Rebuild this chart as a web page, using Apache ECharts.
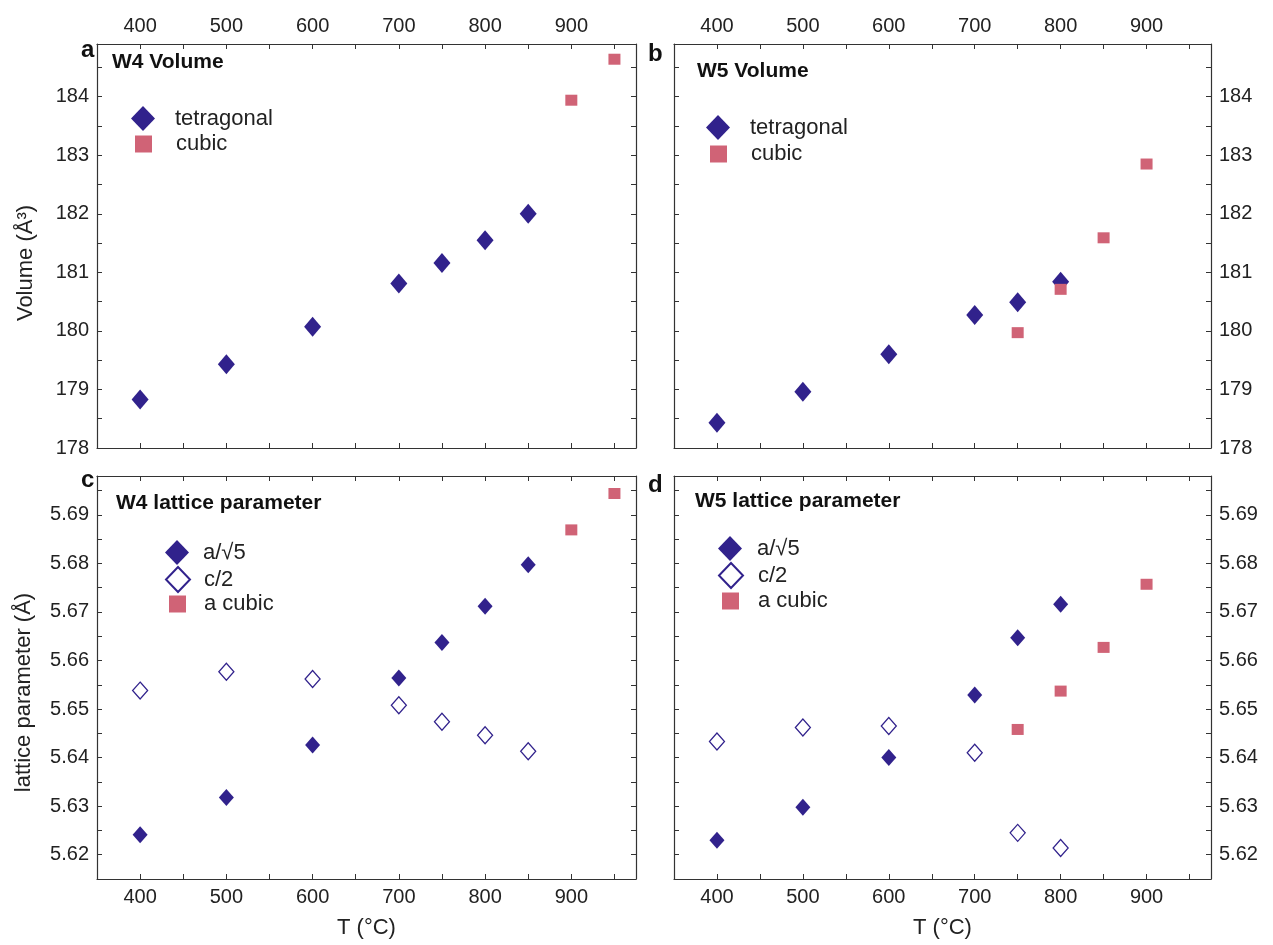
<!DOCTYPE html>
<html>
<head>
<meta charset="utf-8">
<script src="https://cdn.jsdelivr.net/npm/echarts@6/dist/echarts.min.js"></script>
<style>
  html, body { margin: 0; padding: 0; background: #fff; }
  #chart { width: 1273px; height: 945px; }
</style>
</head>
<body>
<div id="chart"></div>
<script>
// temperatures (°C) and values
const tA_tet = [400, 500, 600, 700, 750, 800, 850];
const volA_tet = [178.83, 179.43, 180.07, 180.81, 181.16, 181.55, 182.00];
const tA_cub = [900, 950];
const volA_cub = [183.94, 184.64];

const tB_tet = [400, 500, 600, 700, 750, 800];
const volB_tet = [178.43, 178.96, 179.60, 180.27, 180.49, 180.84];
const tB_cub = [750, 800, 850, 900];
const volB_cub = [179.97, 180.71, 181.59, 182.85];

const tC_tet = [400, 500, 600, 700, 750, 800, 850];
const aC = [5.6241, 5.6318, 5.6426, 5.6564, 5.6637, 5.6712, 5.6797];
const cC = [5.6538, 5.6577, 5.6562, 5.6508, 5.6474, 5.6446, 5.6413];
const tC_cub = [900, 950];
const aC_cub = [5.6869, 5.6944];

const tD_tet = [400, 500, 600, 700, 750, 800];
const aD = [5.6230, 5.6298, 5.6400, 5.6529, 5.6647, 5.6716];
const cD = [5.6433, 5.6462, 5.6465, 5.6410, 5.6245, 5.6214];
const tD_cub = [750, 800, 850, 900];
const aD_cub = [5.6458, 5.6537, 5.6627, 5.6757];

const NAVY = '#31228c';
const PINK = '#d06376';
const AXIS = '#333';
const FONT = 'Liberation Sans, Arial, sans-serif';

const chart = echarts.init(document.getElementById('chart'));

function pairs(xs, ys) {
  return xs.map((x, i) => [x, ys[i]]);
}

// x axis: 350..975, ticks every 50, labels every 100
function xAx(grid, pos, labels, name) {
  return {
    type: 'value', gridIndex: grid, position: pos,
    min: 350, max: 975, interval: 50,
    name: name || '', nameLocation: 'middle', nameGap: 38,
    nameTextStyle: { fontSize: 22, color: '#222', fontFamily: FONT },
    axisLine: { show: true, onZero: false, lineStyle: { color: AXIS, width: 1.2 } },
    axisTick: { show: true, inside: true, length: 5, lineStyle: { color: AXIS } },
    axisLabel: {
      show: labels, fontSize: 20, color: '#222', fontFamily: FONT, margin: 8,
      formatter: v => (v % 100 === 0 ? String(v) : '')
    },
    splitLine: { show: false }
  };
}

function yVol(grid, pos, labels, name) {
  return {
    type: 'value', gridIndex: grid, position: pos,
    min: 178, max: 184.9, interval: 0.5,
    name: name || '', nameLocation: 'middle', nameGap: 60,
    nameTextStyle: { fontSize: 22, color: '#222', fontFamily: FONT, padding: [0, 34, 0, 0] },
    axisLine: { show: true, onZero: false, lineStyle: { color: AXIS, width: 1.2 } },
    axisTick: { show: true, inside: true, length: 5, lineStyle: { color: AXIS } },
    axisLabel: {
      show: labels, fontSize: 20, color: '#222', fontFamily: FONT, margin: 8,
      formatter: v => (Math.abs(v - Math.round(v)) < 1e-6 ? String(Math.round(v)) : '')
    },
    splitLine: { show: false }
  };
}

function yLat(grid, pos, labels, name) {
  return {
    type: 'value', gridIndex: grid, position: pos,
    min: 5.615, max: 5.698, interval: 0.005,
    name: name || '', nameLocation: 'middle', nameGap: 62,
    nameTextStyle: { fontSize: 22, color: '#222', fontFamily: FONT, padding: [0, 30, 0, 0] },
    axisLine: { show: true, onZero: false, lineStyle: { color: AXIS, width: 1.2 } },
    axisTick: { show: true, inside: true, length: 5, lineStyle: { color: AXIS } },
    axisLabel: {
      show: labels, fontSize: 20, color: '#222', fontFamily: FONT, margin: 8,
      formatter: v => (Math.abs(v * 100 - Math.round(v * 100)) < 1e-6 ? v.toFixed(2) : '')
    },
    splitLine: { show: false }
  };
}

function filledDiamond(name, xi, yi, data, size) {
  return {
    name: name, type: 'scatter', xAxisIndex: xi, yAxisIndex: yi,
    symbol: 'diamond', symbolSize: size,
    itemStyle: { color: NAVY, opacity: 1 },
    data: data
  };
}
function hollowDiamond(name, xi, yi, data, size) {
  return {
    name: name, type: 'scatter', xAxisIndex: xi, yAxisIndex: yi,
    symbol: 'diamond', symbolSize: size,
    itemStyle: { color: '#fff', borderColor: NAVY, borderWidth: 1.3, opacity: 1 },
    data: data
  };
}
function square(name, xi, yi, data) {
  return {
    name: name, type: 'scatter', xAxisIndex: xi, yAxisIndex: yi,
    symbol: 'rect', symbolSize: [12, 11],
    itemStyle: { color: PINK, opacity: 1 },
    data: data
  };
}

// one legend per entry so each icon can keep its own size
function leg(name, left, top, w, h, gap, style) {
  const item = { name: name, icon: w === h ? 'rect' : 'diamond' };
  if (style) item.itemStyle = style;
  return {
    data: [item],
    left: left, top: top, itemWidth: w, itemHeight: h,
    selectedMode: false, padding: 0,
    textStyle: { fontSize: 22, color: '#222', fontFamily: FONT, padding: [0, 0, 0, gap] }
  };
}
const HOLLOW = { color: '#fff', borderColor: NAVY, borderWidth: 2 };

function label(text, x, y, size) {
  return {
    type: 'text', left: x, top: y,
    style: { text: text, font: 'bold ' + size + 'px ' + FONT, fill: '#111' }
  };
}

const option = {
  backgroundColor: '#fff',
  animation: false,
  grid: [
    { left: 97, top: 44, width: 539, height: 404 },
    { left: 674, top: 44, width: 537, height: 404 },
    { left: 97, top: 476, width: 539, height: 403 },
    { left: 674, top: 476, width: 537, height: 403 }
  ],
  xAxis: [
    xAx(0, 'top', true), xAx(0, 'bottom', false),
    xAx(1, 'top', true), xAx(1, 'bottom', false),
    xAx(2, 'bottom', true, 'T (°C)'), xAx(2, 'top', false),
    xAx(3, 'bottom', true, 'T (°C)'), xAx(3, 'top', false)
  ],
  yAxis: [
    yVol(0, 'left', true, 'Volume (Å³)'), yVol(0, 'right', false),
    yVol(1, 'right', true), yVol(1, 'left', false),
    yLat(2, 'left', true, 'lattice parameter (Å)'), yLat(2, 'right', false),
    yLat(3, 'right', true), yLat(3, 'left', false)
  ],
  legend: [
    leg('tetragonal', 131, 106, 24, 25, 15),
    leg('cubic', 135, 133, 17, 17, 19),
    leg('tetragonal', 706, 115, 24, 25, 15),
    leg('cubic', 710, 143, 17, 17, 19),
    leg('a/√5', 165, 540, 24, 25, 9),
    leg('c/2', 165, 566, 24, 25, 9, HOLLOW),
    leg('a cubic', 169, 593, 17, 17, 13),
    leg('a/√5', 718, 536, 24, 25, 10),
    leg('c/2', 718, 562, 24, 25, 10, HOLLOW),
    leg('a cubic', 722, 590, 17, 17, 14)
  ],
  graphic: [
    label('a', 81, 38, 24), label('b', 648, 42, 24),
    label('c', 81, 468, 24), label('d', 648, 473, 24),
    label('W4 Volume', 112, 52, 21), label('W5 Volume', 697, 61, 21),
    label('W4 lattice parameter', 116, 493, 21), label('W5 lattice parameter', 695, 491, 21)
  ],
  series: [
    filledDiamond('tetragonal', 0, 0, pairs(tA_tet, volA_tet), [17, 20]),
    square('cubic', 0, 0, pairs(tA_cub, volA_cub)),
    filledDiamond('tetragonal', 2, 2, pairs(tB_tet, volB_tet), [17, 20]),
    square('cubic', 2, 2, pairs(tB_cub, volB_cub)),
    hollowDiamond('c/2', 4, 4, pairs(tC_tet, cC), [15, 17]),
    filledDiamond('a/√5', 4, 4, pairs(tC_tet, aC), [15, 17]),
    square('a cubic', 4, 4, pairs(tC_cub, aC_cub)),
    hollowDiamond('c/2', 6, 6, pairs(tD_tet, cD), [15, 17]),
    filledDiamond('a/√5', 6, 6, pairs(tD_tet, aD), [15, 17]),
    square('a cubic', 6, 6, pairs(tD_cub, aD_cub))
  ]
};

chart.setOption(option);
</script>
</body>
</html>
